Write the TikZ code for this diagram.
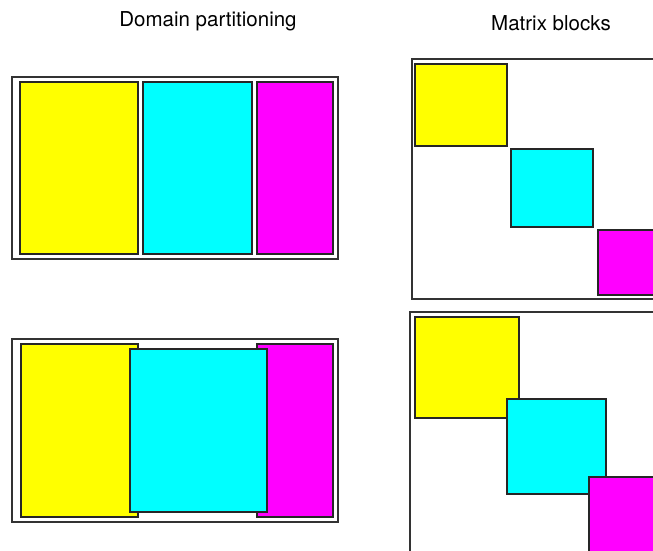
\documentclass[tikz,border=0pt]{standalone}
\usepackage{fontspec}
\setmainfont{TeX Gyre Heros}
\definecolor{pureyellow}{RGB}{255,255,0}
\definecolor{purecyan}{RGB}{0,255,255}
\definecolor{puremagenta}{RGB}{255,0,255}
\begin{document}
\begin{tikzpicture}[x=1pt, y=-1pt]
  \tikzset{
    frame_box/.style={draw=black!80, line width=1.3pt},
    yellow_block/.style={fill=pureyellow, draw=black!85, line width=1.1pt},
    cyan_block/.style={fill=purecyan, draw=black!85, line width=1.1pt},
    magenta_block/.style={fill=puremagenta, draw=black!85, line width=1.1pt},
    title_text/.style={font=\fontsize{20.5}{24}\selectfont, inner sep=0pt}
  }

  % Area visible de la figura
  \useasboundingbox (0,0) rectangle (653,550);
  \clip (0,0) rectangle (653,550);

  % Titulos
  \node[title_text] (title_domain) at (208,21) {Domain partitioning};
  \node[title_text] (title_matrix) at (551,23) {Matrix blocks};

  % Particion sin solapamiento
  \draw[frame_box] (12,77) rectangle (338,259);
  \draw[yellow_block] (20,82) rectangle (138,254);
  \draw[cyan_block] (143,82) rectangle (252,254);
  \draw[magenta_block] (257,82) rectangle (333,254);

  % Particion con solapamiento
  \draw[frame_box] (12,339) rectangle (338,522);
  \draw[yellow_block] (21,344) rectangle (138,517);
  \draw[magenta_block] (257,344) rectangle (333,517);
  \draw[cyan_block] (130,349) rectangle (267,512);

  % Bloques diagonales sin solapamiento
  \draw[frame_box] (412,59) rectangle (700,299);
  \draw[yellow_block] (415,64) rectangle (507,146);
  \draw[cyan_block] (511,149) rectangle (593,227);
  \draw[magenta_block] (598,230) rectangle (680,295);

  % Bloques diagonales con solapamiento
  \draw[frame_box] (410,312) rectangle (700,600);
  \draw[yellow_block] (415,317) rectangle (519,418);
  \draw[cyan_block] (507,399) rectangle (606,494);
  \draw[magenta_block] (589,477) rectangle (690,580);
\end{tikzpicture}
\end{document}
